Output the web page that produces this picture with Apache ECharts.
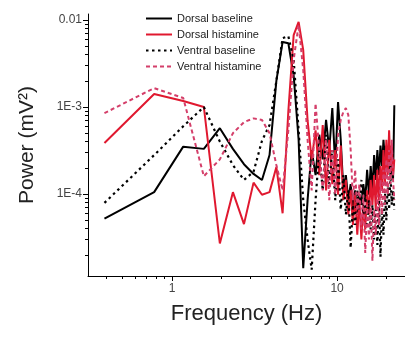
<!DOCTYPE html>
<html>
<head>
<meta charset="utf-8">
<script src="https://cdn.jsdelivr.net/npm/echarts@6/dist/echarts.min.js"></script>
<style>html,body{margin:0;padding:0;background:#fff;}#c{width:405px;height:337px;}</style>
</head>
<body>
<div id="c"></div>
<script>
var freq = [0.39,0.78,1.17,1.56,1.95,2.34,2.73,3.12,3.51,3.9,4.29,4.68,5.07,5.46,5.85,6.24,6.63,7.02,7.41,7.8,8.19,8.58,8.97,9.36,9.75,10.14,10.53,10.92,11.31,11.7,12.09,12.48,12.87,13.26,13.65,14.04,14.43,14.82,15.21,15.6,15.99,16.38,16.77,17.16,17.55,17.94,18.33,18.72,19.11,19.5,19.89,20.28,20.67,21.06,21.45,21.84,22.23];
var dorsalBaseline = [5.2e-5,1.05e-4,3.5e-4,3.3e-4,5.7e-4,3.3e-4,2.2e-4,1.7e-4,1.45e-4,2.8e-4,2.0e-3,5.6e-3,5.4e-3,2.3e-3,4.2e-4,1.4e-5,8.5e-5,3.2e-4,1.65e-4,4.8e-4,2.5e-4,7.1e-4,3.2e-4,9.7e-4,2.1e-4,1.14e-3,4.2e-4,1.1e-4,1.65e-4,8.5e-5,1.3e-4,6.6e-5,1.1e-4,5.8e-5,9.8e-5,7.5e-5,1.3e-4,8.5e-5,1.9e-4,9.8e-5,2.1e-4,1.1e-4,2.8e-4,1.45e-4,3.2e-4,1.65e-4,3.6e-4,2.1e-4,4.2e-4,2.5e-4,3.6e-4,1.9e-4,3.2e-4,1.65e-4,2.5e-4,1.45e-4,1.05e-3];
var dorsalHistamine = [3.86e-4,1.41e-3,1.17e-3,1.0e-3,2.7e-5,1.05e-4,4.5e-5,1.35e-4,9.8e-5,1.05e-4,2.04e-4,6.0e-5,9e-4,6.7e-3,9.5e-3,4.5e-3,7e-4,2.5e-4,5.4e-4,1.65e-4,6.2e-4,1.1e-4,4.2e-4,1.3e-4,3.2e-4,9.8e-5,3.6e-4,8.5e-5,1.45e-4,5.8e-5,1.1e-4,4.4e-5,9.8e-5,3.4e-5,8.5e-5,3.0e-5,7.5e-5,3.9e-5,1.1e-4,5.8e-5,1.45e-4,7.5e-5,1.65e-4,6.6e-5,1.9e-4,8.5e-5,2.1e-4,1.1e-4,3.2e-4,1.3e-4,4.2e-4,1.65e-4,5.4e-4,2.1e-4,3.6e-4,1.65e-4,2.5e-4];
var ventralBaseline = [7.9e-5,2.8e-4,6.0e-4,1.0e-3,4.0e-4,2.15e-4,1.45e-4,1.8e-4,4.1e-4,6.2e-4,2.0e-3,6.2e-3,6.5e-3,3.5e-3,5.4e-4,8.5e-5,3.0e-5,1.35e-5,8.5e-5,3.2e-4,1.1e-4,4.8e-4,1.3e-4,3.2e-4,8.5e-5,2.5e-4,6.6e-5,1.65e-4,5.8e-5,1.1e-4,2.4e-5,7.5e-5,4.4e-5,1.1e-4,6.6e-5,1.45e-4,5.8e-5,9.8e-5,4.4e-5,8.5e-5,3.9e-5,7.5e-5,3.0e-5,6.6e-5,2.6e-5,8.5e-5,1.9e-5,6.6e-5,3.4e-5,1.1e-4,5.0e-5,1.3e-4,6.6e-5,1.65e-4,7.5e-5,1.1e-4,6.6e-5];
var ventralHistamine = [8.5e-4,1.65e-3,1.27e-3,1.6e-4,2.5e-4,5.0e-4,6.7e-4,7.4e-4,7.1e-4,5.0e-4,2.15e-4,1.1e-4,5.4e-4,3.5e-3,8.8e-3,2.65e-3,4.2e-4,1.1e-4,1.1e-3,3.2e-4,1.1e-4,4.2e-4,8.5e-5,3.2e-4,9.8e-5,4.8e-4,7.1e-4,8.8e-4,9.7e-4,8.1e-4,3.2e-4,8.5e-5,1.9e-4,5.8e-5,1.3e-4,3.9e-5,9.8e-5,2.1e-5,7.5e-5,3.0e-5,8.5e-5,1.7e-5,6.6e-5,3.4e-5,9.8e-5,4.4e-5,1.45e-4,5.8e-5,1.9e-4,7.5e-5,2.5e-4,9.8e-5,3.2e-4,1.3e-4,4.2e-4,1.45e-4,8.5e-5];
var seriesNames = ['Dorsal baseline','Dorsal histamine','Ventral baseline','Ventral histamine'];
var yMajorLabels = {'0.0001':'1E-4','0.001':'1E-3','0.01':'0.01'};
var yMinor = [2e-5,3e-5,4e-5,5e-5,6e-5,7e-5,8e-5,9e-5,2e-4,3e-4,4e-4,5e-4,6e-4,7e-4,8e-4,9e-4,2e-3,3e-3,4e-3,5e-3,6e-3,7e-3,8e-3,9e-3];
var xMinor = [0.4,0.5,0.6,0.7,0.8,0.9,2,3,4,5,6,7,8,9,20];

function pairs(ys){ return freq.map(function(f,i){ return [f, ys[i]]; }); }
// tick positions for the ticks-only helper axes, in decades above the axis minimum
function rel(a, lo){ return a.map(function(v){ return Math.log10(v) - Math.log10(lo); }); }

var chart = echarts.init(document.getElementById('c'));
var YMIN = 1.14e-5, YMAX = 0.01173, XMIN = 0.31, XMAX = 25.8;
var font = 'Arial, "Liberation Sans", sans-serif';
chart.setOption({
  animation: false,
  backgroundColor: '#fff',
  grid: {left: 88, right: 0, top: 14, bottom: 61},
  legend: {
    orient: 'vertical', left: 140, top: 8, itemWidth: 26, itemHeight: 10, itemGap: 5,
    textStyle: {fontSize: 11, color: '#222', fontFamily: font},
    itemStyle: {opacity: 0},
    data: seriesNames
  },
  xAxis: [{
    type: 'log', logBase: 10, min: XMIN, max: XMAX, position: 'bottom',
    name: 'Frequency (Hz)', nameLocation: 'middle', nameGap: 27,
    nameTextStyle: {fontSize: 22, color: '#222', fontFamily: font},
    axisLine: {show: true, onZero: false, lineStyle: {color: '#000', width: 1}},
    axisTick: {show: true, length: 5, lineStyle: {color: '#000'}},
    axisLabel: {show: true, fontSize: 12, color: '#444', fontFamily: font, margin: 7, showMinLabel: false, showMaxLabel: false},
    splitLine: {show: false}, minorTick: {show: false}
  },{
    type: 'value', min: 0, max: Math.log10(XMAX) - Math.log10(XMIN), position: 'bottom',
    axisLine: {show: false, onZero: true, onZeroAxisIndex: 1},
    axisTick: {show: true, length: 3, customValues: rel(xMinor, XMIN), lineStyle: {color: '#000'}},
    axisLabel: {show: false}, splitLine: {show: false}
  }],
  yAxis: [{
    type: 'log', logBase: 10, min: YMIN, max: YMAX, position: 'left',
    name: 'Power (mV²)', nameLocation: 'middle', nameGap: 50,
    nameTextStyle: {fontSize: 21, color: '#222', fontFamily: font},
    axisLine: {show: true, onZero: false, lineStyle: {color: '#000', width: 1}},
    axisTick: {show: true, length: 5, lineStyle: {color: '#000'}},
    axisLabel: {show: true, fontSize: 12, color: '#444', fontFamily: font, margin: 6, showMinLabel: false, showMaxLabel: false,
      formatter: function(v){ var k = String(+(+v).toPrecision(3)); return yMajorLabels[k] || ''; }},
    splitLine: {show: false}
  },{
    type: 'value', min: 0, max: Math.log10(YMAX) - Math.log10(YMIN), position: 'left',
    axisLine: {show: false, onZero: true, onZeroAxisIndex: 1},
    axisTick: {show: true, length: 3, customValues: rel(yMinor, YMIN), lineStyle: {color: '#000'}},
    axisLabel: {show: false}, splitLine: {show: false}
  }],
  series: [
    {name: seriesNames[0], type: 'line', data: pairs(dorsalBaseline), showSymbol: false, symbol: 'none',
     lineStyle: {color: '#000', width: 2, type: 'solid'}, itemStyle: {color: '#000'}},
    {name: seriesNames[1], type: 'line', data: pairs(dorsalHistamine), showSymbol: false, symbol: 'none',
     lineStyle: {color: '#e0182f', width: 2, type: 'solid'}, itemStyle: {color: '#e0182f'}},
    {name: seriesNames[2], type: 'line', data: pairs(ventralBaseline), showSymbol: false, symbol: 'none',
     lineStyle: {color: '#000', width: 2.2, type: [2.5, 3.5]}, itemStyle: {color: '#000'}},
    {name: seriesNames[3], type: 'line', data: pairs(ventralHistamine), showSymbol: false, symbol: 'none',
     lineStyle: {color: '#d43f6a', width: 2, type: [4, 3]}, itemStyle: {color: '#d43f6a'}},
    {type: 'line', xAxisIndex: 1, yAxisIndex: 1, data: [], silent: true}
  ]
});
</script>
</body>
</html>
